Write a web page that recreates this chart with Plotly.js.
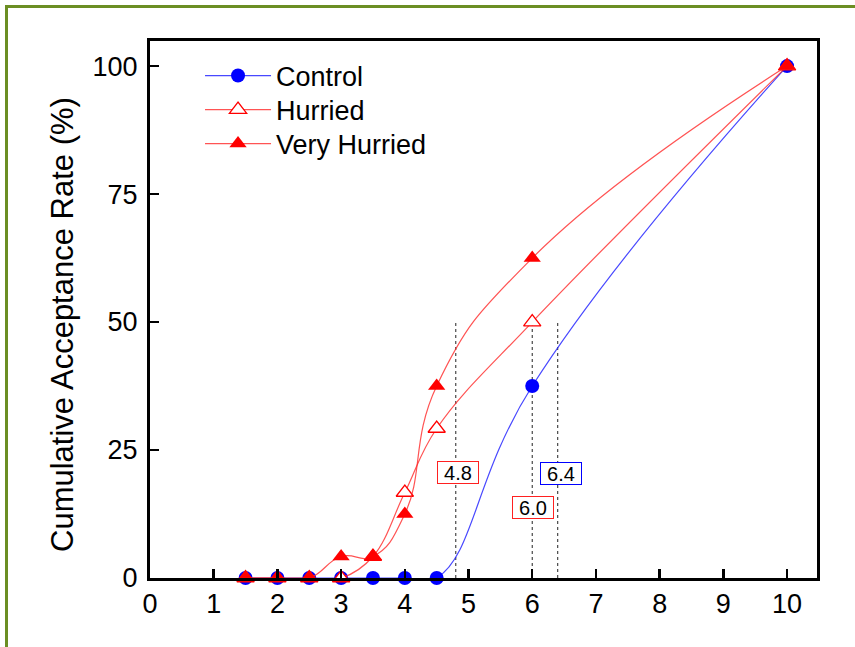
<!DOCTYPE html>
<html>
<head>
<meta charset="utf-8">
<script src="https://cdn.plot.ly/plotly-3.0.1.min.js"></script>
<style>
  html, body { margin: 0; padding: 0; background: #ffffff; overflow: hidden; }
  #chart { position: absolute; left: 0; top: 0; width: 855px; height: 647px; }
  #frame { position: absolute; left: 5px; top: 5px; width: 900px; height: 700px;
           border-left: 3px solid #6b8e23; border-top: 3px solid #6b8e23; pointer-events: none; }
</style>
</head>
<body>
<div id="chart"></div>
<div id="frame"></div>
<script>
// Data
const seriesNames = ["Control", "Hurried", "Very Hurried"];
const controlX = [1.5, 2, 2.5, 3, 3.5, 4, 4.5, 6, 10];
const controlY = [0, 0, 0, 0, 0, 0, 0, 37.5, 100];
const hurriedX = [1.5, 2, 2.5, 3, 3.5, 4, 4.5, 6, 10];
const hurriedY = [0, 0, 0, 0, 4.2, 16.7, 29.2, 50, 100];
const veryHurriedX = [1.5, 2, 2.5, 3, 3.5, 4, 4.5, 6, 10];
const veryHurriedY = [0, 0, 0, 4.2, 4.2, 12.5, 37.5, 62.5, 100];
const crossX = [4.8, 6.0, 6.4];
const crossY = 50;
const crossLabels = ["4.8", "6.0", "6.4"];
const xTicks = [0, 1, 2, 3, 4, 5, 6, 7, 8, 9, 10];
const yTicks = [0, 25, 50, 75, 100];

const font = "Arial, 'Liberation Sans', sans-serif";

const traces = [
  {
    x: controlX, y: controlY, name: seriesNames[0], mode: "lines+markers", legend: "legend",
    line: { color: "rgba(40,40,255,0.85)", width: 1.2, shape: "spline", smoothing: 1.3 },
    marker: { symbol: "circle", size: 14, color: "#0000ff" },
    cliponaxis: false
  },
  {
    x: hurriedX, y: hurriedY, name: seriesNames[1], mode: "lines+markers", legend: "legend2",
    line: { color: "rgba(255,40,40,0.8)", width: 1.2, shape: "spline", smoothing: 1.1 },
    marker: { symbol: "triangle-up", size: 15, color: "#ffffff", line: { color: "#ff0000", width: 1.3 } },
    cliponaxis: false
  },
  {
    x: veryHurriedX, y: veryHurriedY, name: seriesNames[2], mode: "lines+markers", legend: "legend3",
    line: { color: "rgba(255,40,40,0.8)", width: 1.2, shape: "spline", smoothing: 1.3 },
    marker: { symbol: "triangle-up", size: 15, color: "#ff0000" },
    cliponaxis: false
  }
];

const shapes = crossX.map(v => ({
  type: "line", xref: "x", yref: "y", x0: v, x1: v, y0: 0, y1: crossY,
  line: { color: "#222222", width: 1, dash: "3px,3px" }, layer: "below"
}));

const labelPos = [
  { ax: 4.835, ay: 20.7, c: "#ff2020" },
  { ax: 6.005, ay: 13.7, c: "#ff2020" },
  { ax: 6.45, ay: 20.5, c: "#0000ff" }
];
const annotations = crossLabels.map((t, i) => ({
  x: labelPos[i].ax, y: labelPos[i].ay, xref: "x", yref: "y", text: t, showarrow: false,
  font: { family: font, size: 20, color: "#000000" }, width: 40, height: 21,
  bgcolor: "#ffffff", bordercolor: labelPos[i].c, borderwidth: 1, borderpad: 0
}));
annotations.push({
  text: "Cumulative Acceptance Rate (%)", xref: "paper", yref: "paper",
  x: (62 - 150) / 667, y: (578 - 325) / 537, textangle: -90, showarrow: false,
  font: { family: font, size: 31, color: "#000000" }, xanchor: "center", yanchor: "middle"
});

function leg(ypix) {
  return {
    x: 0.075, y: (578 - ypix) / 537, xanchor: "left", yanchor: "middle",
    font: { family: font, size: 27, color: "#000000" },
    bgcolor: "rgba(0,0,0,0)", itemwidth: 66, tracegroupgap: 0
  };
}

const layout = {
  width: 855, height: 647,
  margin: { l: 150, r: 38, t: 41, b: 69, pad: 0 },
  paper_bgcolor: "rgba(0,0,0,0)", plot_bgcolor: "#ffffff",
  showlegend: true,
  legend: leg(76), legend2: leg(110), legend3: leg(144),
  xaxis: {
    range: [0, 10.47], tickmode: "array", tickvals: xTicks,
    ticks: "inside", ticklen: 9, tickwidth: 2.5, tickcolor: "#000",
    showline: true, linecolor: "#000", linewidth: 3, mirror: true,
    showgrid: false, zeroline: false,
    tickfont: { family: font, size: 27, color: "#000" }
  },
  yaxis: {
    range: [0, 104.9], tickmode: "array", tickvals: yTicks,
    ticks: "inside", ticklen: 9, tickwidth: 2.5, tickcolor: "#000",
    showline: true, linecolor: "#000", linewidth: 3, mirror: true,
    showgrid: false, zeroline: false, ticklabelstandoff: 4,
    tickfont: { family: font, size: 27, color: "#000" }
  },
  shapes: shapes,
  annotations: annotations
};

Plotly.newPlot("chart", traces, layout, { displayModeBar: false, staticPlot: true });
</script>
</body>
</html>
